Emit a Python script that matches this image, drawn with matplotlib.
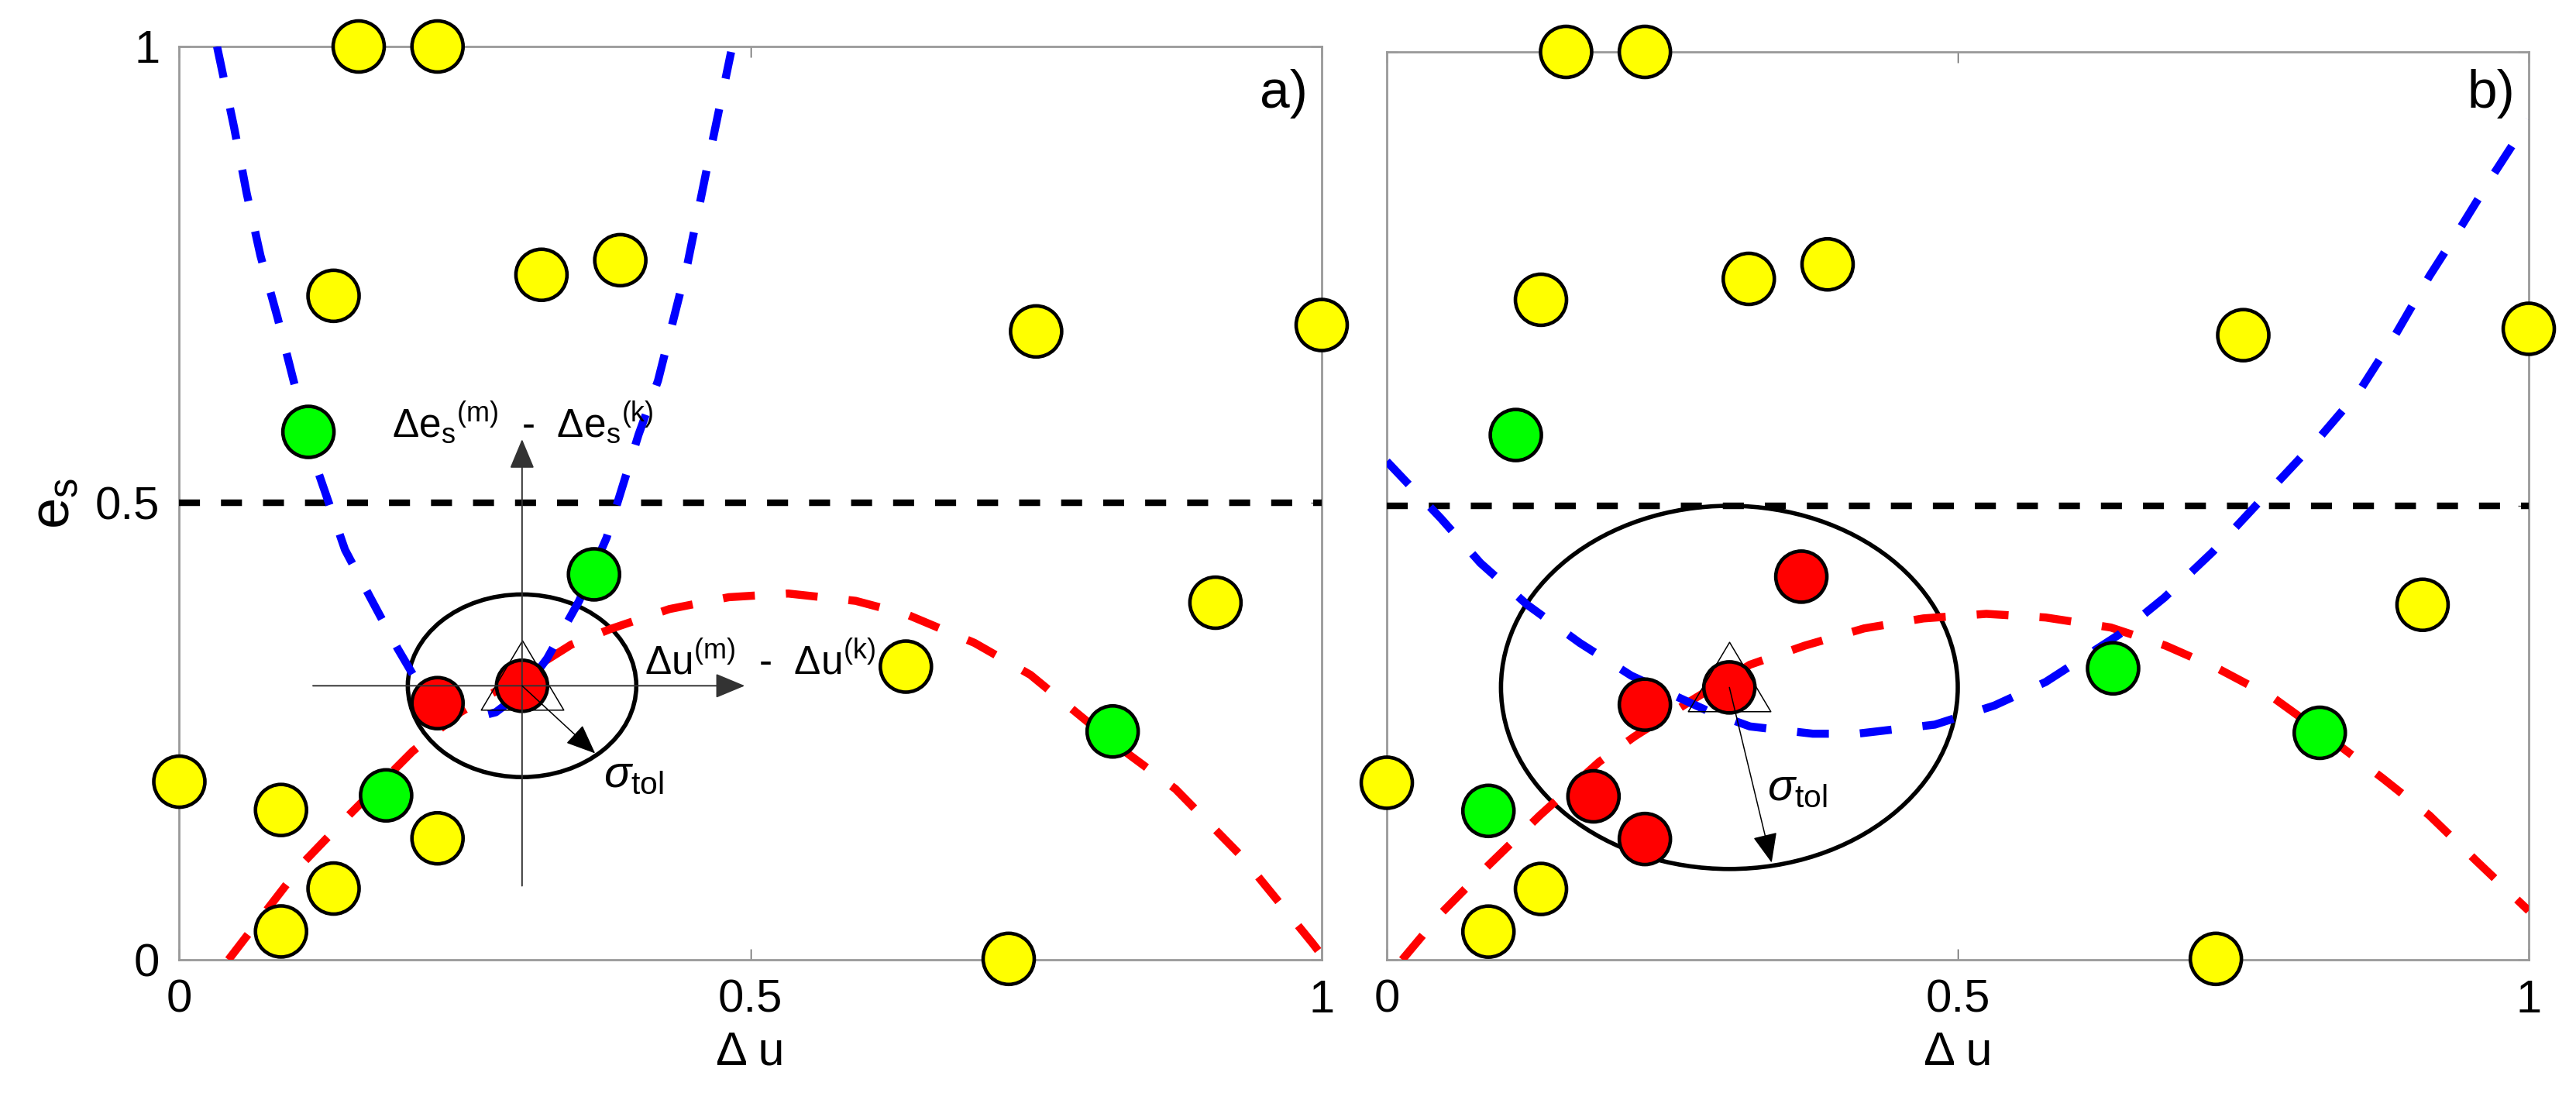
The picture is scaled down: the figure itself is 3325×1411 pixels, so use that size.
import numpy as np
import matplotlib
matplotlib.use('Agg')
import matplotlib.pyplot as plt
from matplotlib.patches import Ellipse
from matplotlib.path import Path

plt.rcParams['font.family'] = ['Liberation Sans', 'DejaVu Sans']
plt.rcParams['mathtext.fontset'] = 'custom'
plt.rcParams['mathtext.rm'] = 'Liberation Sans'
plt.rcParams['mathtext.it'] = 'Liberation Sans:italic'
plt.rcParams['mathtext.bf'] = 'Liberation Sans:bold'

# candidate points (same positions in both panels)
du = [0.157, 0.226, 0.135, 0.317, 0.386, 0.750, 1.0, 0.113, 0.363, 0.30, 0.226,
      0.0, 0.089, 0.181, 0.226, 0.135, 0.089, 0.636, 0.817, 0.907, 0.726]
es = [1.0, 1.0, 0.727, 0.750, 0.766, 0.688, 0.695, 0.578, 0.422, 0.30, 0.281,
      0.195, 0.164, 0.180, 0.133, 0.078, 0.031, 0.321, 0.250, 0.391, 0.001]
cls_a = ['y', 'y', 'y', 'y', 'y', 'y', 'y', 'g', 'g', 'r', 'r',
         'y', 'y', 'g', 'y', 'y', 'y', 'y', 'g', 'y', 'y']
cls_b = ['y', 'y', 'y', 'y', 'y', 'y', 'y', 'g', 'r', 'r', 'r',
         'y', 'g', 'r', 'r', 'y', 'y', 'g', 'g', 'y', 'y']

# reference point and tolerance radius
ref_u, ref_e = 0.3, 0.3
sigma_a, sigma_b = 0.1, 0.2

# panel a) curves
red_a_x = [0.043, 0.075, 0.109, 0.149, 0.204, 0.246, 0.281, 0.315, 0.343, 0.377, 0.429,
           0.481, 0.533, 0.592, 0.637, 0.696, 0.745, 0.817, 0.872, 0.930, 0.992, 1.0]
red_a_y = [0.0, 0.052, 0.107, 0.159, 0.228, 0.271, 0.297, 0.323, 0.345, 0.362, 0.384,
           0.397, 0.401, 0.393, 0.378, 0.347, 0.312, 0.238, 0.187, 0.113, 0.018, 0.005]
blue_a_x = [0.033, 0.048, 0.059, 0.071, 0.086, 0.100, 0.121, 0.145, 0.167, 0.191, 0.215,
            0.240, 0.258, 0.277, 0.300, 0.322, 0.350, 0.374, 0.402, 0.419, 0.445, 0.466, 0.483]
blue_a_y = [1.0, 0.911, 0.839, 0.771, 0.703, 0.634, 0.536, 0.449, 0.397, 0.341, 0.290,
            0.270, 0.265, 0.271, 0.293, 0.330, 0.393, 0.462, 0.575, 0.634, 0.763, 0.892, 0.994]

# panel b) curves
red_b_x = [0.0135, 0.0475, 0.089, 0.134, 0.186, 0.217, 0.266, 0.318, 0.366, 0.418, 0.470,
           0.525, 0.577, 0.634, 0.682, 0.729, 0.777, 0.832, 0.872, 0.913, 0.954, 1.0]
red_b_y = [0.0, 0.051, 0.104, 0.159, 0.218, 0.246, 0.285, 0.325, 0.346, 0.365, 0.376,
           0.381, 0.377, 0.366, 0.346, 0.320, 0.288, 0.238, 0.200, 0.159, 0.109, 0.054]
blue_b_x = [0.0, 0.0475, 0.082, 0.123, 0.169, 0.214, 0.283, 0.318, 0.373, 0.412, 0.480,
            0.532, 0.577, 0.641, 0.681, 0.723, 0.763, 0.818, 0.852, 0.883, 0.913, 0.940, 0.968, 1.0]
blue_b_y = [0.549, 0.486, 0.437, 0.391, 0.349, 0.313, 0.273, 0.257, 0.249, 0.249, 0.259,
            0.280, 0.306, 0.358, 0.399, 0.449, 0.503, 0.577, 0.627, 0.688, 0.753, 0.806, 0.863, 0.925]

threshold = 0.5

# annotation geometry
cross_h = (0.117, 0.495)
cross_v = (0.081, 0.570)
sig_tip_a = (0.364, 0.226)
sig_tip_b = (0.337, 0.107)

colmap = {'y': '#FFFF00', 'g': '#00FF00', 'r': '#FF0000'}
tri = Path([(0, 1), (-0.913, -0.536), (0.913, -0.536), (0, 1)],
           [Path.MOVETO, Path.LINETO, Path.LINETO, Path.CLOSEPOLY])

fig = plt.figure(figsize=(33.25, 14.11), dpi=100)
ax1 = fig.add_axes([0.06962, 0.12190, 0.44346, 0.83558])
ax2 = fig.add_axes([0.53835, 0.12190, 0.44331, 0.83062])

head = '-|>,head_length=24,head_width=10'


def style_axes(ax, show_y):
    ax.set_xlim(0, 1)
    ax.set_ylim(0, 1)
    ax.set_xticks([0, 0.5, 1])
    ax.set_xticklabels(['0', '0.5', '1'])
    ax.set_yticks([0, 0.5, 1])
    ax.set_yticklabels(['0', '0.5', '1'] if show_y else [])
    ax.tick_params(direction='in', length=10, width=1, color='#555555',
                   top=True, right=True, labelsize=43, pad=18)
    for s in ax.spines.values():
        s.set_color('#999999')
        s.set_linewidth(2)
    ax.set_xlabel('Δ u', fontsize=44, labelpad=8)


def draw_panel(ax, cls, red_x, red_y, blue_x, blue_y, sigma):
    ax.add_patch(Ellipse((ref_u, ref_e), 2 * sigma, 2 * sigma, fill=False,
                         edgecolor='k', lw=4, zorder=2))
    ax.plot([0, 1], [threshold, threshold], color='k', lw=6.1,
            linestyle=(0, (3.2, 3.2)), zorder=3)
    ax.plot(red_x, red_y, color='#FF0000', lw=7.5, linestyle=(0, (3.95, 3.85)), zorder=3)
    ax.plot(blue_x, blue_y, color='#0000FF', lw=7.5, linestyle=(0, (3.95, 3.85)), zorder=3)
    ax.scatter(du, es, s=47.5 ** 2, c=[colmap[c] for c in cls], edgecolors='k',
               linewidths=3.3, zorder=4, clip_on=False)
    ax.plot([ref_u], [ref_e], marker=tri, markersize=84, markerfacecolor='none',
            markeredgecolor='k', markeredgewidth=1.1, linestyle='none', zorder=6)


style_axes(ax1, True)
style_axes(ax2, False)
ax1.set_ylabel(r'$\mathrm{e}_\mathrm{s}$', fontsize=52, labelpad=14)

draw_panel(ax1, cls_a, red_a_x, red_a_y, blue_a_x, blue_a_y, sigma_a)
draw_panel(ax2, cls_b, red_b_x, red_b_y, blue_b_x, blue_b_y, sigma_b)

# crosshair arrows in panel a)
ax1.annotate('', xy=(cross_h[1], ref_e), xytext=(cross_h[0], ref_e),
             arrowprops=dict(arrowstyle=head, lw=1.4, color='#333333',
                             mutation_scale=1, shrinkA=0, shrinkB=0), zorder=7)
ax1.annotate('', xy=(ref_u, cross_v[1]), xytext=(ref_u, cross_v[0]),
             arrowprops=dict(arrowstyle=head, lw=1.4, color='#333333',
                             mutation_scale=1, shrinkA=0, shrinkB=0), zorder=7)
ax1.annotate('', xy=sig_tip_a, xytext=(ref_u, ref_e),
             arrowprops=dict(arrowstyle=head, lw=1.1, color='k',
                             mutation_scale=1, shrinkA=0, shrinkB=0), zorder=7)
ax2.annotate('', xy=sig_tip_b, xytext=(ref_u, ref_e),
             arrowprops=dict(arrowstyle=head, lw=1.1, color='k',
                             mutation_scale=1, shrinkA=0, shrinkB=0), zorder=7)

ax1.text(0.186, 0.5725,
         r'$\Delta\mathrm{e}_\mathrm{s}{}^\mathrm{(m)}$  -  $\Delta\mathrm{e}_\mathrm{s}{}^\mathrm{(k)}$',
         fontsize=37, va='baseline', ha='left', zorder=8)
ax1.text(0.407, 0.313,
         r'$\Delta\mathrm{u}^\mathrm{(m)}$  -  $\Delta\mathrm{u}^\mathrm{(k)}$',
         fontsize=37, va='baseline', ha='left', zorder=8)
ax1.text(0.371, 0.189, r'$\sigma_\mathrm{tol}$', fontsize=42, va='baseline', ha='left', zorder=8)
ax2.text(0.333, 0.176, r'$\sigma_\mathrm{tol}$', fontsize=42, va='baseline', ha='left', zorder=8)

ax1.text(0.988, 0.975, 'a)', transform=ax1.transAxes, fontsize=50, ha='right', va='top')
ax2.text(0.988, 0.981, 'b)', transform=ax2.transAxes, fontsize=50, ha='right', va='top')

fig.savefig('out.png', dpi=100)
